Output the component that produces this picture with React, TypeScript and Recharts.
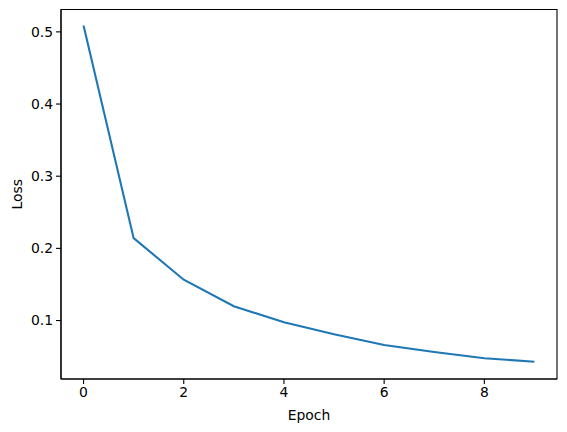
import React from "react";
import { LineChart, Line, XAxis, YAxis, Label, ReferenceArea } from "recharts";

if (typeof document !== "undefined") {
  document.body.style.margin = "0";
}

const epochs = [0, 1, 2, 3, 4, 5, 6, 7, 8, 9];
const losses = [0.5087, 0.2142, 0.1566, 0.1198, 0.0977, 0.081, 0.066, 0.0563, 0.0478, 0.0428];
const xTicks = [0, 2, 4, 6, 8];
const yTicks = [0.1, 0.2, 0.3, 0.4, 0.5];

const data = epochs.map((e, i) => ({ epoch: e, loss: losses[i] }));

const font = "'DejaVu Sans', sans-serif";
const tickStyle = { fill: "#000", fontSize: 13.9, fontFamily: font };
const xDomain: [number, number] = [-0.45, 9.45];
const yDomain: [number, number] = [0.019, 0.531];

export default function App() {
  return (
    <LineChart
      width={567}
      height={432}
      data={data}
      margin={{ top: 9.5, right: 10, left: 11, bottom: 23 }}
    >
      <XAxis
        dataKey="epoch"
        type="number"
        domain={xDomain}
        ticks={xTicks}
        allowDataOverflow
        height={30}
        stroke="#000"
        strokeWidth={1.1}
        tickSize={5}
        tickMargin={3}
        tick={tickStyle}
        tickFormatter={(v: number) => String(v)}
      >
        <Label
          value="Epoch"
          position="insideBottom"
          offset={-11}
          style={{ fill: "#000", fontSize: 13.9, fontFamily: font }}
        />
      </XAxis>
      <YAxis
        type="number"
        domain={yDomain}
        ticks={yTicks}
        allowDataOverflow
        width={50}
        stroke="#000"
        strokeWidth={1.1}
        tickSize={5}
        tickMargin={3}
        tick={tickStyle}
        tickFormatter={(v: number) => v.toFixed(1)}
      >
        <Label
          value="Loss"
          angle={-90}
          position="insideLeft"
          offset={6}
          style={{ fill: "#000", fontSize: 13.9, fontFamily: font, textAnchor: "middle" }}
        />
      </YAxis>
      <ReferenceArea
        x1={xDomain[0]}
        x2={xDomain[1]}
        y1={yDomain[0]}
        y2={yDomain[1]}
        fill="none"
        fillOpacity={0}
        stroke="#000"
        strokeWidth={1.1}
        ifOverflow="visible"
      />
      <Line
        dataKey="loss"
        stroke="#1f77b4"
        strokeWidth={2.1}
        dot={false}
        isAnimationActive={false}
      />
    </LineChart>
  );
}
